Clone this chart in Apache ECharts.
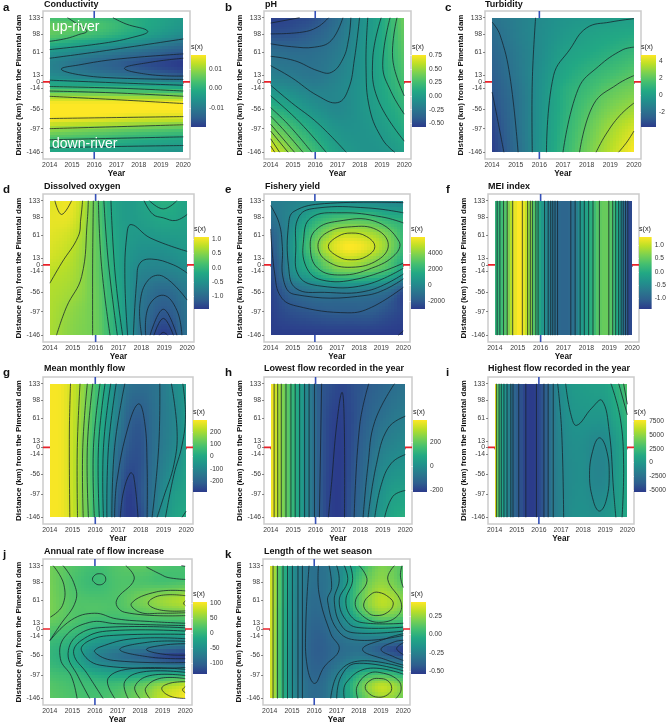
<!DOCTYPE html>
<html><head><meta charset="utf-8">
<style>html,body{margin:0;padding:0;background:#fff}#c{width:669px;height:725px}</style>
<script src="https://cdn.jsdelivr.net/npm/echarts@6/dist/echarts.min.js"></script>
</head><body><div id="c"></div>
<script>
// ---------- tick labels ----------
const yearTicks=[2014,2015,2016,2017,2018,2019,2020];
const kmTicks=[133,98,61,13,0,-14,-56,-97,-146];
const kmRows=[133,98,61,13,-14,-56,-97,-146];

// ---------- a Conductivity ----------
const aX=[2014,2016,2018,2020];
const aY=[133,115,98,80,61,37,13,0,-14,-30,-45,-76,-97,-120,-146];
const aV=[[.0031,.0024,-.0006,-.0043],[.0061,.0043,-.0006,-.005],[.0054,.0024,-.0024,-.0072],[.0006,-.0032,-.0069,-.0117],[-.005,-.0087,-.0124,-.0161],[-.0087,-.0131,-.0168,-.0198],[-.0069,-.0098,-.0124,-.0154],[-.0032,-.0043,-.0057,-.0076],[.0031,.0024,.0017,.0006],[.0105,.0098,.0091,.0083],[.0172,.0172,.0172,.0172],[.0165,.0157,.0142,.0135],[.0098,.008,.0061,.0046],[.0031,.0017,-.0006,-.002],[-.002,-.0032,-.0043,-.0057]];
const aC=[[[2014,84],[2014.75,90],[2015.3,98],[2015.67,105],[2015.3,118],[2014.8,133]],[[2016.84,133],[2017.43,120],[2018.4,105],[2017.7,92],[2016.24,79],[2014,67]],[[2014,49],[2016.24,63],[2020,89]],[[2020,58],[2017,47],[2015.3,35],[2014.52,26.5],[2015.3,15],[2017,8],[2020,5]],[[2020,49],[2018.5,40.5],[2017.36,28],[2018.5,15],[2020,12]],[[2014,3.6],[2017,-2],[2020,-7]],[[2014,-9.7],[2017,-13],[2020,-19]],[[2014,-19],[2017,-23],[2020,-30]],[[2014,-30],[2017,-37],[2020,-45]],[[2014,-76],[2017,-74],[2020,-72]],[[2014,-97],[2017,-93],[2020,-89]],[[2014,-120],[2017,-117],[2020,-114]],[[2014,-137],[2017,-134],[2020,-132]]];

// ---------- b pH ----------
const bV=[[-.55,-.52,-.47,-.3,-.1,.1,.39],[-.47,-.45,-.38,-.26,-.08,.1,.36],[-.3,-.32,-.3,-.22,-.07,.1,.33],[-.18,-.22,-.25,-.17,-.06,.09,.28],[-.06,-.12,-.18,-.14,-.05,.08,.24],[.18,.05,-.07,-.13,-.05,.05,.17],[.42,.24,.08,-.05,-.06,0,.12],[.72,.43,.22,.03,-.05,-.05,.03]];
const bC=[[[2014,122],[2015.3,133]],[[2014,99.6],[2015.4,103],[2016.1,113.5],[2016.6,133]],[[2014,79],[2014.93,73],[2015.97,72],[2016.72,85.7],[2017.24,133]],[[2014,53],[2015.07,44],[2016.12,23],[2016.72,19.6],[2017.24,47.4],[2017.5,89],[2017.6,133]],[[2014,33.5],[2014.93,9],[2016.12,-29],[2017.01,-43],[2017.49,-15],[2017.76,47.4],[2017.99,133]],[[2014,-7],[2014.93,-43],[2016.12,-86],[2017.39,-146]],[[2018.36,133],[2018.28,33.5],[2018.45,-57],[2019.03,-120],[2019.57,-146]],[[2018.96,133],[2018.58,47],[2018.81,-36],[2020,-123]],[[2019.36,133],[2019.03,33.5],[2019.4,-20],[2020,-67]],[[2019.67,133],[2019.48,47],[2020,-29]],[[2014,-29],[2014.93,-67],[2015.67,-102],[2016.49,-146]],[[2014,-53.5],[2014.78,-88],[2015.85,-146]],[[2014,-71],[2014.63,-102],[2015.45,-146]],[[2014,-88],[2015.07,-146]],[[2014,-102],[2014.78,-146]],[[2014,-118],[2014.4,-146]],[[2014,-133],[2014.18,-146]]];

// ---------- c Turbidity ----------
const cV=[[-1.85,-1.4,-.9,-.5,-.3,-.12,0],[-2.2,-1.45,-.85,-.3,.1,.35,.55],[-2.45,-1.6,-.85,0,.4,.75,1.15],[-2.75,-1.75,-.7,.35,1,1.5,2],[-2.9,-1.9,-.65,.6,1.3,2,2.47],[-3.2,-2,-.6,.7,1.75,2.6,3.2],[-3.5,-2.05,-.55,.85,2.1,3.2,4.1],[-3.7,-2.2,-.5,1,2.4,3.6,4.7]];
const cC=[[[2014,-21],[2014.2,-70],[2014.5,-146]],[[2014,124],[2014.33,98],[2014.75,13],[2015.1,-146]],[[2015.84,133],[2015.7,0],[2015.7,-146]],[[2020,131],[2019,124],[2018,112],[2017.3,68],[2016.6,13],[2016.3,-146]],[[2020,72],[2019.5,66],[2018.5,32],[2017.65,-14],[2017,-146]],[[2020,13],[2019.3,-5],[2018.3,-46],[2017.7,-146]],[[2020,-44],[2019.4,-70],[2018.8,-110],[2018.4,-146]],[[2020,-102],[2019.7,-125],[2019.35,-146]]];

// ---------- d Dissolved oxygen ----------
const dX=[2014,2015,2016,2016.5,2017,2017.5,2018,2019,2020];
const dV=[[.92,.98,.3,-.1,-.3,-.36,-.27,-.1,-.25],[.98,.92,.3,-.07,-.3,-.36,-.32,-.2,-.28],[.95,.82,.32,-.03,-.28,-.37,-.4,-.36,-.33],[.87,.72,.33,.02,-.27,-.45,-.55,-.58,-.45],[.77,.68,.33,.04,-.26,-.5,-.66,-.7,-.6],[.72,.62,.35,.08,-.22,-.52,-.8,-1,-.8],[.7,.54,.36,.1,-.2,-.53,-.85,-1.18,-.88],[.68,.5,.37,.12,-.18,-.53,-.9,-1.42,-.9]];
const dC=[[[2014.22,133],[2014.51,104.5],[2014.95,133]],[[2014,-38],[2014.51,3.6],[2015.24,59],[2015.35,95],[2015.43,133]],[[2014.29,-146],[2014.73,-87],[2015.39,-24],[2015.64,94],[2015.68,133]],[[2015.87,-146],[2015.87,3.6],[2015.9,133]],[[2016.63,-146],[2016.26,-3],[2016.12,133]],[[2016.95,-146],[2016.56,3.6],[2016.36,133]],[[2017.18,-146],[2016.85,-17],[2016.67,133]],[[2017.4,-146],[2017.28,-31],[2017.36,60],[2017.55,83.6],[2018.38,56],[2020,28]],[[2017.65,-146],[2017.8,-31],[2017.94,3.6],[2018.45,12],[2019.4,0],[2020,-17]],[[2018.01,-146],[2017.94,-80],[2018.31,-31],[2018.96,-24],[2020,-73]],[[2018.19,-146],[2018.31,-87],[2018.96,-63],[2019.55,-94],[2019.77,-146]],[[2018.38,-146],[2018.96,-92],[2019.55,-146]],[[2018.55,-146],[2018.96,-111],[2019.4,-146]],[[2018.79,-146],[2018.96,-140],[2019.15,-146]],[[2018.12,133],[2018.5,105],[2018.96,97.5],[2019.5,92],[2020,104.5]],[[2018.35,133],[2018.96,116],[2019.55,133]]];

// ---------- e Fishery yield ----------
const eX=[2014,2014.5,2015,2016,2016.5,2017,2017.65,2018.5,2019.3,2020];
const eY=[133,98,61,38,13,-14,-56,-97,-146];
const eV=[[-600,-500,-350,-100,-50,-100,-150,-150,-300,-350],[-1100,-500,100,1700,2200,2500,2700,2550,1900,1700],[-1800,-800,600,3000,4000,4900,5100,4700,3700,2200],[-2200,-700,700,3500,4800,5600,6000,5400,4000,2300],[-2400,-1100,500,2700,3800,4700,5000,4300,3200,1700],[-2500,-1300,300,1800,2600,3200,3400,3000,2300,900],[-2750,-2100,-1500,-900,-800,-800,-750,-900,-1300,-2500],[-2850,-2500,-2300,-2050,-1950,-1900,-1900,-1900,-2300,-2700],[-2900,-2950,-2950,-2950,-2950,-2950,-2950,-2950,-2950,-3000]];
const eC=[[[2016.61,38],[2017.04,59],[2017.66,66],[2018.33,59],[2018.71,38],[2018.33,17.5],[2017.66,10.5],[2017.04,17.5],[2016.61,38]],[[2016.14,38],[2016.51,66],[2017.65,79],[2018.79,73],[2019.32,42],[2018.86,10.5],[2017.65,-5],[2016.58,7],[2016.14,38]],[[2015.79,38],[2016.05,73],[2017.04,90.5],[2018.71,90.5],[2019.8,49],[2019.62,21],[2018.56,-7],[2017.19,-21],[2016.13,-7],[2015.79,38]],[[2020,87],[2019.01,99.6],[2017.19,108],[2015.82,97.5],[2015.49,52],[2015.6,-3.4],[2016.28,-31],[2017.95,-29],[2020,3.6]],[[2020,108],[2018.41,118],[2016.13,118],[2015.29,101],[2015.14,38],[2015.29,-24],[2016.28,-44],[2018.25,-42],[2020,-7]],[[2020,129],[2016.43,127],[2015.06,111],[2014.81,83.6],[2014.81,-3.4],[2015.14,-48.6],[2016.43,-57],[2018.41,-53.5],[2020,-19]],[[2014,123],[2014.38,87],[2014.53,38],[2014.58,-31],[2015.06,-61],[2018.41,-62.5],[2020,-29]],[[2014,74.5],[2014.18,-17],[2014.46,-66],[2015.14,-85],[2017.49,-99.4],[2018.56,-88],[2020,-46.5]],[[2019.77,-146],[2020,-137]]];

// ---------- f MEI index ----------
const fX=[2014,2014.37,2014.54,2014.78,2014.95,2015.2,2015.43,2015.64,2015.79,2016,2016.33,2016.53,2016.74,2017,2017.32,2017.51,2017.73,2017.91,2018.1,2018.29,2018.57,2018.98,2019.15,2019.28,2019.41,2019.52,2019.61,2019.71,2019.81,2020];
const fY=[133,-146];
const fMei=[.09,.28,.55,1.04,1.31,1.26,.9,.55,.23,-.18,-.59,-.8,-.91,-.97,-.91,-.72,-.37,-.18,-.05,.14,.44,.5,.28,.09,-.18,-.45,-.72,-.99,-1.18,-1.35];
const fLines=[2014.1,2014.22,2014.38,2014.54,2014.78,2015.2,2015.43,2015.55,2015.64,2015.79,2015.89,2016.17,2016.33,2016.44,2016.53,2016.63,2016.74,2017.32,2017.51,2017.73,2017.91,2018.1,2018.29,2018.57,2018.98,2019.15,2019.28,2019.41,2019.52,2019.61,2019.71,2019.81];

// ---------- g Mean monthly flow ----------
const gX=[2014,2014.5,2015,2015.5,2016,2016.5,2017,2017.5,2018,2018.5,2019,2019.5,2020];
const gY=[133,61,-14,-97,-146];
const gV=[[292,285,240,172,85,-15,-110,-158,-170,-162,-135,-85,-40],[292,285,236,160,65,-35,-125,-204,-222,-178,-138,-102,-45],[292,285,232,146,42,-60,-175,-235,-240,-178,-130,-90,-30],[292,285,232,150,52,-80,-210,-278,-235,-165,-92,-35,-15],[292,285,237,152,55,-75,-230,-285,-255,-155,-65,-15,10]];
const gC=[[[2014.91,133],[2014.86,30],[2014.88,-146]],[[2015.33,133],[2015.21,0],[2015.22,-146]],[[2015.65,133],[2015.45,0],[2015.47,-146]],[[2015.89,133],[2015.65,0],[2015.7,-146]],[[2016.21,133],[2015.92,0],[2015.96,-146]],[[2016.43,133],[2016.14,0],[2016.18,-146]],[[2016.68,133],[2016.36,0],[2016.36,-146]],[[2016.92,133],[2016.58,0],[2016.51,-146]],[[2017.3,133],[2016.85,0],[2016.73,-146]],[[2016.85,-146],[2016.95,-71],[2017.47,47],[2017.91,91],[2018.17,54],[2018.28,-36],[2018.28,-146]],[[2017.1,-146],[2017.24,-93],[2017.54,-53.5],[2017.69,-60],[2017.88,-146]],[[2018.84,133],[2018.79,0],[2018.5,-146]],[[2019.35,133],[2019.6,33],[2019.46,-36],[2019,-105],[2018.72,-146]],[[2019.85,133],[2019.97,68],[2019.82,5],[2019.46,-57],[2019.09,-146]],[[2019.82,-146],[2020,-133]]];

// ---------- h Lowest flow ----------
const hX=[2014,2014.15,2014.31,2014.47,2014.68,2014.9,2015.09,2015.29,2015.51,2015.71,2015.95,2016.2,2016.6,2017,2017.25,2017.7,2018.1,2018.5,2019,2019.5,2020];
const hY=[133,61,-14,-97,-146];
const hV=[[385,350,300,250,200,150,100,50,0,-50,-100,-150,-170,-188,-190,-170,-158,-140,-122,-100,-85],[385,350,300,250,200,150,100,50,0,-50,-100,-150,-190,-205,-200,-175,-145,-118,-88,-65,-48],[385,350,300,250,200,150,100,50,0,-50,-100,-150,-195,-212,-205,-165,-125,-85,-38,-18,0],[385,350,300,250,200,150,100,50,0,-50,-100,-150,-200,-215,-200,-150,-105,-44,18,52,60],[385,350,300,250,200,150,100,50,0,-50,-100,-150,-200,-215,-200,-140,-90,-25,42,80,105]];
const hLines=[2014.15,2014.31,2014.47,2014.68,2014.9,2015.09,2015.29,2015.51,2015.71,2015.95];
const hC=[[[2016.27,133],[2016.17,-146]],[[2016.57,-146],[2016.72,-71],[2016.94,47],[2017.18,115],[2017.28,47],[2017.29,-146]],[[2018.37,133],[2017.97,47],[2017.72,-146]],[[2019.52,133],[2018.64,54],[2018.34,-36],[2018.12,-146]],[[2020,65],[2019.23,40],[2018.71,-36],[2018.34,-146]],[[2020,-15],[2019.38,-33],[2018.93,-78],[2018.64,-146]],[[2020,-90],[2019.45,-102],[2019.08,-146]]];

// ---------- i Highest flow ----------
const iX=[2014,2014.05,2014.1,2014.2,2014.3,2014.42,2014.56,2014.73,2014.83,2015.09,2015.41,2015.65,2015.89,2016.23,2016.42,2016.65,2016.88,2017.5,2018,2018.5,2019,2019.5,2020];
const iY=[133,61,13,-56,-146];
const iV=[[7680,6500,4500,2500,1200,200,-1000,-2000,-3000,-4000,-5000,-5200,-5000,-4000,-3000,-2000,-1000,130,400,600,800,1700,3400],[7680,6500,4500,2500,1200,200,-1000,-2000,-3000,-4000,-5000,-5200,-5000,-4000,-3000,-2000,-1250,-300,-100,-100,-50,1000,1900],[7680,6500,4500,2500,1200,200,-1000,-2000,-3000,-4000,-5000,-5200,-5000,-4000,-3000,-2000,-1400,-600,-600,-950,-900,200,1500],[7680,6500,4500,2500,1200,200,-1000,-2000,-3000,-4000,-5000,-5200,-5000,-4000,-3000,-2000,-1500,-800,-650,-1200,-1150,100,1100],[7680,6500,4500,2500,1200,200,-1000,-2000,-3000,-4000,-5000,-5200,-5000,-4000,-3000,-2000,-1600,-600,-450,-550,-200,300,1100]];
const iLines=[2014.08,2014.2,2014.3,2014.42,2014.56,2014.73,2014.83,2015.09,2015.41,2015.89,2016.23,2016.42,2016.65];
const iC=[[[2016.85,133],[2017.03,33.5],[2017.12,-146]],[[2017.21,133],[2017.45,68],[2017.71,46],[2018.39,82],[2018.85,98],[2019.18,33.5],[2019.38,-92],[2019.48,-146]],[[2018.29,-57],[2018.47,-1],[2018.74,20],[2019.03,-1],[2019.18,-57],[2019.03,-113],[2018.74,-133],[2018.47,-113],[2018.29,-57]],[[2019.26,133],[2019.68,61],[2019.83,-36],[2019.76,-146]],[[2019.61,133],[2020,68]],[[2019.83,133],[2020,90]]];

// ---------- j Annual rate of flow increase ----------
const jY=[133,98,61,37,13,-14,-35,-56,-76,-97,-120,-146];
const jV=[[38,22,12,22,28,18,14],[40,18,6,18,18,14,18],[42,22,18,20,40,58,70],[42,22,20,18,28,40,46],[30,18,4,4,6,6,4],[12,0,-20,-28,-28,-30,-30],[2,-12,-45,-60,-65,-75,-85],[0,-18,-62,-85,-100,-125,-135],[4,-12,-45,-62,-70,-80,-90],[14,5,-12,-20,-18,-10,-5],[22,14,8,12,30,60,80],[26,18,14,22,42,78,102]];
const jC=[[[2015.89,104.5],[2016.01,113.5],[2016.19,116],[2016.39,113.5],[2016.48,104.5],[2016.39,96],[2016.19,92.7],[2016.01,96],[2015.89,104.5]],[[2014.15,133],[2014.62,94],[2014.56,49],[2014.03,25]],[[2014.59,133],[2015.06,97.6],[2015.15,59],[2014.44,7],[2014,-24]],[[2014,-25],[2014.96,19],[2015.99,33],[2016.95,21.3],[2018.43,15.6],[2020,12]],[[2017.37,133],[2017.74,104.5],[2016.95,59],[2017.32,35],[2020,28]],[[2018.28,130],[2018.9,115],[2019.24,108],[2020,104]],[[2019.83,133],[2020,131.6]],[[2020,80],[2018.73,78],[2017.62,54],[2017.99,35],[2018.9,33],[2020,34]],[[2020,70],[2018.87,70],[2018.36,54],[2018.87,40],[2020,38]],[[2020,59],[2019.93,54],[2020,49]],[[2020,7],[2016.95,11],[2015.77,14],[2014.66,-17],[2014.47,-62.5],[2014.96,-100],[2015.21,-146]],[[2020,2.4],[2016.66,3.8],[2015.33,-10],[2014.81,-52],[2015.26,-100],[2015.77,-146]],[[2020,-4.5],[2016.51,-4.5],[2015.4,-24],[2015.06,-52],[2015.65,-93.4],[2016.36,-146]],[[2020,-11.4],[2016.81,-13.5],[2015.77,-24],[2015.4,-45],[2016.22,-76],[2020,-81]],[[2020,-20.5],[2017.69,-20.5],[2016.22,-38],[2015.99,-48.6],[2016.81,-66],[2020,-70.5]],[[2020,-26],[2018.43,-27.4],[2017.1,-43],[2018.43,-59],[2020,-62.5]],[[2020,-31],[2019.02,-34],[2018.28,-43],[2019.02,-53],[2020,-55]],[[2020,-85],[2017.69,-83],[2016.58,-104],[2016.88,-146]],[[2020,-91.3],[2018.14,-90],[2017.32,-110.7],[2017.47,-146]],[[2020,-98],[2018.43,-98],[2017.77,-121],[2017.99,-146]],[[2020,-104.5],[2018.87,-104],[2018.24,-125],[2018.43,-146]],[[2020,-110.7],[2019.32,-114],[2018.96,-125],[2019.32,-141],[2020,-146]],[[2020,-121],[2019.88,-128],[2020,-134]]];

// ---------- k Length of the wet season ----------
const kX=[2014,2014.5,2015,2016,2017,2018,2019,2020];
const kY=[133,98,61,37,13,-14,-43,-70,-97,-120,-146];
const kV=[[.4,.07,-.17,-.33,-.24,0,.2,.1],[.4,.07,-.17,-.33,-.24,.08,.24,.12],[.4,.07,-.18,-.35,-.22,.12,.32,.22],[.4,.06,-.18,-.36,-.24,.08,.26,.18],[.4,.06,-.19,-.38,-.28,-.08,.05,.02],[.4,.05,-.19,-.4,-.33,-.24,-.22,-.22],[.4,.05,-.2,-.41,-.36,-.33,-.42,-.52],[.4,.05,-.2,-.4,-.33,-.22,-.24,-.32],[.4,.05,-.2,-.38,-.26,0,.1,0],[.4,.06,-.19,-.36,-.22,.12,.33,.2],[.4,.06,-.19,-.36,-.22,.08,.27,.18]];
const kLines=[2014.15,2014.35,2014.6,2014.8,2015.02,2015.27,2015.47];
const kC=[[[2015.77,133],[2015.62,3.8],[2015.69,-80],[2016.02,-114.5],[2016.44,-80],[2017.12,-43],[2016.74,-10],[2016.22,73],[2016.19,133]],[[2016.67,133],[2016.78,87],[2016.6,59],[2017.12,-6.6],[2018.1,-24],[2020,-13.5]],[[2017.01,133],[2017.12,101],[2016.9,59],[2017.27,3.8],[2017.95,-8.7],[2020,-4.5]],[[2017.35,133],[2017.5,101],[2017.12,59],[2017.5,14],[2018.1,2.4],[2020,3.8]],[[2017.62,133],[2017.72,101],[2017.42,59],[2017.72,23],[2018.4,12],[2020,12]],[[2018.02,133],[2018.37,101],[2017.84,56],[2018.25,24.7],[2019,14],[2019.75,28],[2019.9,56],[2019.3,104.5],[2019.6,133]],[[2018.22,52.4],[2018.55,73],[2018.88,77],[2019.37,66],[2019.55,52.4],[2019.3,35],[2018.77,28],[2018.4,35],[2018.22,52.4]],[[2019.94,133],[2019.87,111.5],[2020,87]],[[2020,-10],[2019.3,-19],[2018.17,-43],[2019.3,-66],[2020,-76]],[[2020,-24],[2019.6,-27],[2019,-43],[2019.6,-59],[2020,-66]],[[2020,-29],[2019.7,-41],[2020,-54]],[[2016.74,-146],[2017.12,-90],[2018.1,-67],[2020,-81]],[[2017.01,-146],[2017.2,-100],[2017.87,-72.5],[2020,-88]],[[2017.35,-146],[2017.42,-114],[2018.4,-83],[2020,-94.8]],[[2017.95,-146],[2017.92,-121],[2018.4,-94.8],[2019,-92],[2019.75,-107],[2019.9,-128],[2019.67,-146]],[[2018.29,-121],[2018.55,-107],[2018.88,-104],[2019.3,-108.7],[2019.48,-125],[2019.3,-138],[2018.88,-143.4],[2018.47,-136],[2018.29,-121]]];

const vertical=xs=>xs.map(x=>[[x,133],[x,-146]]);

// ---------- colour ramp ----------
const ramp=['#2B3A8B','#2E5F8E','#2A788E','#21918C','#22A884','#44BF70','#7AD151','#BBDF27','#FDE725'];
const rampRgb=ramp.map(h=>[1,3,5].map(i=>parseInt(h.slice(i,i+2),16)));
function colorAt(t){t=Math.max(0,Math.min(1,t));const p=t*(ramp.length-1),i=Math.min(ramp.length-2,Math.floor(p)),f=p-i;
  const c=rampRgb[i].map((a,k)=>Math.round(a+(rampRgb[i+1][k]-a)*f));return `rgb(${c[0]},${c[1]},${c[2]})`;}

const panels=[
 {l:'a',title:'Conductivity',xs:aX,ys:aY,vals:aV,lines:aC,range:[-.0198,.0172],leg:[-.01,0,.01],dec:2},
 {l:'b',title:'pH',xs:yearTicks,ys:kmRows,vals:bV,lines:bC,range:[-.57,.76],leg:[-.5,-.25,0,.25,.5,.75],dec:2},
 {l:'c',title:'Turbidity',xs:yearTicks,ys:kmRows,vals:cV,lines:cC,range:[-3.78,4.71],leg:[-2,0,2,4],dec:0},
 {l:'d',title:'Dissolved oxygen',xs:dX,ys:kmRows,vals:dV,lines:dC,range:[-1.44,1.08],leg:[-1,-.5,0,.5,1],dec:1},
 {l:'e',title:'Fishery yield',xs:eX,ys:eY,vals:eV,lines:eC,range:[-3000,6000],leg:[-2000,0,2000,4000],dec:0},
 {l:'f',title:'MEI index',xs:fX,ys:fY,vals:[fMei,fMei],lines:vertical(fLines),range:[-1.4,1.31],leg:[-1,-.5,0,.5,1],dec:1},
 {l:'g',title:'Mean monthly flow',xs:gX,ys:gY,vals:gV,lines:gC,range:[-290,298],leg:[-200,-100,0,100,200],dec:0},
 {l:'h',title:'Lowest flow recorded in the year',xs:hX,ys:hY,vals:hV,lines:vertical(hLines).concat(hC),range:[-217,383],leg:[-200,0,200],dec:0},
 {l:'i',title:'Highest flow recorded in the year',xs:iX,ys:iY,vals:iV,lines:vertical(iLines).concat(iC),range:[-5300,7680],leg:[-5000,-2500,0,2500,5000,7500],dec:0},
 {l:'j',title:'Annual rate of flow increase',xs:yearTicks,ys:jY,vals:jV,lines:jC,range:[-137,103],leg:[-100,-50,0,50,100],dec:0},
 {l:'k',title:'Length of the wet season',xs:kX,ys:kY,vals:kV,lines:vertical(kLines).concat(kC),range:[-.536,.445],leg:[-.5,-.25,0,.25],dec:2}
];

const rows=[{t:11,b:159,bt:55,bb:127,ty:5,ly:8},{t:194,b:342,bt:237,bb:309,ty:187,ly:190},{t:377,b:524,bt:420,bb:492,ty:369,ly:373},{t:559,b:707,bt:602,bb:674,ty:552,ly:555}];
const layout=[
 {r:0,x0:43,x1:190,nx:21,bx:191,bw:15,tx:44,lx:3},
 {r:0,x0:264,x1:411,nx:242,bx:412,bw:14,tx:265,lx:225},
 {r:0,x0:485,x1:641,nx:462,bx:641,bw:15,tx:485,lx:445},
 {r:1,x0:43,x1:194,nx:21,bx:194,bw:15,tx:44,lx:3},
 {r:1,x0:264,x1:410,nx:242,bx:411,bw:14,tx:265,lx:225},
 {r:1,x0:488,x1:639,nx:466,bx:639,bw:15,tx:488,lx:446},
 {r:2,x0:43,x1:193,nx:21,bx:193,bw:14,tx:44,lx:3},
 {r:2,x0:264,x1:412,nx:241,bx:413,bw:14,tx:264,lx:225},
 {r:2,x0:488,x1:634,nx:466,bx:634,bw:15,tx:488,lx:446},
 {r:3,x0:43,x1:192,nx:21,bx:193,bw:14,tx:44,lx:3},
 {r:3,x0:263,x1:410,nx:241,bx:411,bw:15,tx:264,lx:225}
];
const FONT='"Liberation Sans",Arial,sans-serif';

// smooth shading inside a cell between the values read at its corners
function slopes(xs,vs){const n=xs.length;return vs.map((v,i)=>{
  const a=Math.max(0,i-1),b=Math.min(n-1,i+1);return (vs[b]-vs[a])/(xs[b]-xs[a]);});}
function hermite(xs,vs,m,i,x){const h=xs[i+1]-xs[i],u=(x-xs[i])/h,u2=u*u,u3=u2*u;
  return (2*u3-3*u2+1)*vs[i]+(u3-2*u2+u)*h*m[i]+(-2*u3+3*u2)*vs[i+1]+(u3-u2)*h*m[i+1];}

const opt={animation:false,backgroundColor:'#fff',title:[],grid:[],xAxis:[],yAxis:[],series:[]};
const label=(text,left,top,size,color,weight)=>opt.title.push({text,left,top,padding:0,itemGap:0,textStyle:{fontFamily:FONT,fontSize:size,fontWeight:weight||'bold',color:color||'#111'}});

panels.forEach((p,pi)=>{
  const L=layout[pi],R=rows[L.r];
  opt.grid.push({left:L.x0,top:R.t,width:L.x1-L.x0,height:R.b-R.t,show:true,borderColor:'#cbcbcb',borderWidth:1.5,backgroundColor:'#fff'});
  const gi=opt.grid.length-1,xi=opt.xAxis.length,yi=opt.yAxis.length;
  opt.xAxis.push({type:'value',gridIndex:gi,min:2013.7,max:2020.3,splitLine:{show:false},axisLine:{show:false},
    axisTick:{length:2,customValues:yearTicks,lineStyle:{color:'#555',width:.7}},
    axisLabel:{customValues:yearTicks,margin:3,fontSize:6.8,fontFamily:FONT,color:'#3a3a3a',formatter:v=>String(v)},
    name:'Year',nameLocation:'middle',nameGap:10,nameTextStyle:{fontFamily:FONT,fontSize:8.2,fontWeight:'bold',color:'#111'}});
  opt.yAxis.push({type:'value',gridIndex:gi,min:-159.95,max:146.95,splitLine:{show:false},axisLine:{show:false},
    axisTick:{length:2,customValues:kmTicks,lineStyle:{color:'#555',width:.7}},
    axisLabel:{customValues:kmTicks,margin:3,fontSize:6.8,fontFamily:FONT,color:'#3a3a3a',formatter:v=>String(v)},
    name:'Distance (km) from the Pimental dam',nameLocation:'middle',nameRotate:90,nameGap:L.x0-L.nx-4,nameTextStyle:{fontFamily:FONT,fontSize:8,fontWeight:'bold',color:'#111'}});
  [[[2013.7,0],[2020.3,0],'#e8222a'],[[2016,-159.95],[2016,146.95],'#3550b8']].forEach(r=>opt.series.push({type:'line',xAxisIndex:xi,yAxisIndex:yi,data:[r[0],r[1]],showSymbol:false,silent:true,z:1,lineStyle:{color:r[2],width:1.6}}));
  const cells=[];
  for(let j=0;j<p.ys.length-1;j++)for(let i=0;i<p.xs.length-1;i++)
    cells.push([p.xs[i],p.xs[i+1],p.ys[j],p.ys[j+1],i,j]);
  const rowSlopes=p.vals.map(r=>slopes(p.xs,r));
  const t=v=>(v-p.range[0])/(p.range[1]-p.range[0]);
  opt.series.push({type:'custom',xAxisIndex:xi,yAxisIndex:yi,silent:true,z:2,clip:true,data:cells,encode:{x:[0,1],y:[2,3]},
    renderItem:(params,api)=>{
      const x0=api.value(0),x1=api.value(1),y0=api.value(2),y1=api.value(3),ci=api.value(4),cj=api.value(5);
      const a=api.coord([x0,y0]),d=api.coord([x1,y1]);
      const px0=Math.round(a[0]),px1=Math.round(d[0]),py0=Math.round(a[1]),py1=Math.round(d[1]);
      const nx=Math.max(1,Math.round((px1-px0)/3)),ny=Math.max(1,Math.round((py1-py0)/3));
      const kids=[];
      for(let c=0;c<nx;c++){
        const ax=Math.round(px0+(px1-px0)*c/nx),bx=Math.round(px0+(px1-px0)*(c+1)/nx);
        if(bx<=ax)continue;
        const x=x0+(x1-x0)*(c+.5)/nx;
        const col=p.vals.map((r,ri)=>hermite(p.xs,r,rowSlopes[ri],ci,x));
        const cm=slopes(p.ys,col);
        for(let b=0;b<ny;b++){
          const ay=Math.round(py0+(py1-py0)*b/ny),by=Math.round(py0+(py1-py0)*(b+1)/ny);
          if(by<=ay)continue;
          const y=y0+(y1-y0)*(b+.5)/ny;
          kids.push({type:'rect',shape:{x:ax,y:ay,width:bx-ax,height:by-ay},style:{fill:colorAt(t(hermite(p.ys,col,cm,cj,y)))}});
        }
      }
      return {type:'group',children:kids};
    }});
  const lineData=p.lines.map((c,i)=>[i,c[0][0],c[0][1]]);
  opt.series.push({type:'custom',xAxisIndex:xi,yAxisIndex:yi,silent:true,z:3,clip:true,data:lineData,encode:{x:1,y:2},
    renderItem:(params,api)=>{
      const c=p.lines[api.value(0)];
      const closed=c.length>3&&c[0][0]===c[c.length-1][0]&&c[0][1]===c[c.length-1][1];
      const pts=(closed?c.slice(0,-1):c).map(q=>api.coord(q));
      return {type:closed?'polygon':'polyline',shape:{points:pts,smooth:c.length>2?0.42:0},style:{fill:'none',stroke:'#15202a',lineWidth:.75}};
    }});
  opt.grid.push({left:L.bx,top:R.bt,width:L.bw,height:R.bb-R.bt,show:false});
  const bg=opt.grid.length-1,bxi=opt.xAxis.length,byi=opt.yAxis.length;
  opt.xAxis.push({type:'value',gridIndex:bg,min:0,max:1,show:false});
  opt.yAxis.push({type:'value',gridIndex:bg,position:'right',min:p.range[0],max:p.range[1],splitLine:{show:false},axisLine:{show:false},
    axisTick:{inside:true,length:3,customValues:p.leg,lineStyle:{color:'#ffffff',width:.6}},
    axisLabel:{customValues:p.leg,margin:3,fontSize:6.6,fontFamily:FONT,color:'#333',formatter:v=>v.toFixed(p.dec)}});
  opt.yAxis.push({type:'value',gridIndex:bg,position:'left',min:p.range[0],max:p.range[1],splitLine:{show:false},axisLine:{show:false},
    axisTick:{inside:true,length:3,customValues:p.leg,lineStyle:{color:'#ffffff',width:.6}},axisLabel:{show:false}});
  opt.series.push({type:'custom',xAxisIndex:bxi,yAxisIndex:byi,silent:true,z:2,clip:false,data:[[0,1,p.range[0],p.range[1]]],encode:{x:[0,1],y:[2,3]},
    renderItem:(params,api)=>{
      const A=api.coord([api.value(0),api.value(3)]),B=api.coord([api.value(1),api.value(2)]);
      return {type:'rect',shape:{x:A[0],y:A[1],width:B[0]-A[0],height:B[1]-A[1]},
        style:{fill:{type:'linear',x:0,y:1,x2:0,y2:0,colorStops:ramp.map((c,i)=>({offset:i/(ramp.length-1),color:c}))}}};
    }});
  label('s(x)',L.bx,R.bt-11,7.2,'#222','normal');
  label(p.title,L.tx,R.ty-5,9,'#111');
  label(p.l,L.lx,R.ly-6,11.5,'#111');
});
label('up-river',52,20,14,'#fff','normal');
label('down-river',52,137,14,'#fff','normal');

const chart=echarts.init(document.getElementById('c'),null,{renderer:'canvas'});
chart.setOption(opt);
</script></body></html>
